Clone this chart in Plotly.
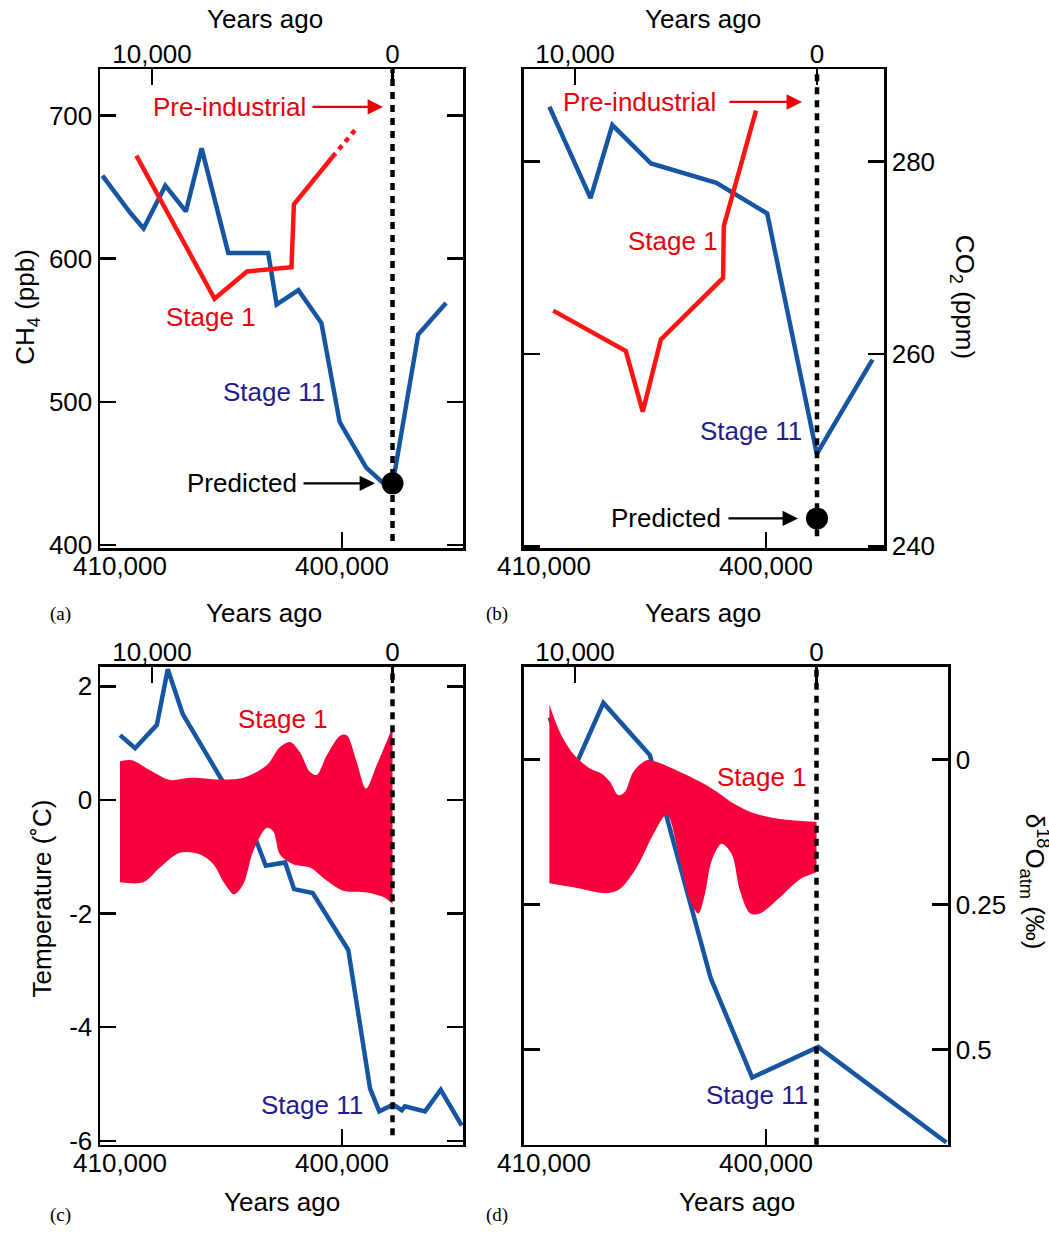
import plotly.graph_objects as go

W, H = 1049, 1240
FONT = "Liberation Sans, Arial, Helvetica, sans-serif"
SERIF = "Liberation Serif, Times New Roman, serif"
RED = "#ff1414"
RED_TXT = "#e8000b"
BAND = "#fa003c"
BLUE = "#1655a2"
NAVY = "#1f1c8f"

# ---------------- Data ----------------
# Panel (a) CH4 (ppb)
ch4_s11_years = [409900, 408750, 408200, 407300, 406450, 405800, 404700, 403050, 402700,
                 401800, 400850, 400100, 399000, 398350, 397900, 396850, 395700]
ch4_s11 = [658, 632, 621, 651, 633, 677, 604, 604, 568, 578, 555, 486, 454, 444, 443, 547, 569]
ch4_s1_years = [10650, 7400, 6050, 4200, 4100, 2500]
ch4_s1 = [672, 572, 591, 594, 638, 671]
ch4_s1_ext_years = [2500, 1550]
ch4_s1_ext = [671, 690]
ch4_preindustrial = 706
ch4_predicted = 443

# Panel (b) CO2 (ppm)
co2_s11_years = [408950, 407250, 406350, 404750, 402050, 399950, 397900, 395600]
co2_s11 = [285.7, 276.2, 283.8, 279.8, 277.8, 274.6, 249.6, 259.4]
co2_s1_years = [10900, 7900, 7200, 6450, 3880, 3850, 2520]
co2_s1 = [264.5, 260.3, 254.0, 261.5, 267.9, 273.3, 285.3]
co2_preindustrial = 286.2
co2_predicted = 242.9

# Panel (c) Temperature (C)
temp_s11_years = [409170, 408550, 407650, 407200, 406580, 403670, 403150, 402350, 401980,
                  401210, 399740, 398840, 398460, 397880, 397530, 397400, 396570, 395920, 395050]
temp_s11 = [1.14, 0.91, 1.32, 2.30, 1.51, -0.58, -1.16, -1.10, -1.57, -1.64, -2.64, -5.08,
            -5.48, -5.36, -5.46, -5.39, -5.48, -5.10, -5.73]
temp_s1_up_years = [11330, 10840, 10080, 9250, 8420, 7170, 6200, 5230, 4680, 4260, 3850, 3430,
                    3150, 2740, 2180, 1900, 1490, 1100, 660, 0]
temp_s1_up = [0.68, 0.70, 0.52, 0.35, 0.39, 0.36, 0.39, 0.61, 0.93, 1.02, 0.84, 0.49, 0.44,
              0.78, 1.13, 1.14, 0.67, 0.20, 0.61, 1.28]
temp_s1_lo_years = [11330, 10360, 9670, 8840, 8000, 7450, 6970, 6590, 6200, 5790, 5230, 4960,
                    4680, 4130, 3430, 2740, 2050, 1070, 380, 0]
temp_s1_lo = [-1.45, -1.45, -1.19, -0.93, -0.96, -1.13, -1.48, -1.66, -1.48, -0.90, -0.49,
              -0.55, -0.96, -1.13, -1.19, -1.42, -1.60, -1.63, -1.71, -1.83]

# Panel (d) d18O atm (permil)
d18o_s11_years = [408940, 408070, 406720, 404800, 402290, 400570, 397840, 392550]
d18o_s11 = [-0.073, 0.029, -0.098, -0.008, 0.376, 0.548, 0.495, 0.660]
d18o_s1_up_years = [11060, 10620, 10070, 9380, 8890, 8550, 8210, 7930, 7590, 7030, 6620, 5650,
                    4820, 4130, 3450, 2620, 1510, 0]
d18o_s1_up = [-0.095, -0.047, -0.010, 0.015, 0.024, 0.038, 0.061, 0.055, 0.021, 0.001, 0.004,
              0.021, 0.038, 0.055, 0.075, 0.092, 0.102, 0.107]
d18o_s1_lo_years = [11060, 10070, 8690, 8140, 7450, 6760, 6200, 5650, 5240, 4890, 4620, 4340,
                    3930, 3510, 3170, 2750, 2340, 1510, 680, 0]
d18o_s1_lo = [0.213, 0.220, 0.230, 0.223, 0.186, 0.129, 0.095, 0.174, 0.243, 0.265, 0.231,
              0.174, 0.145, 0.163, 0.226, 0.265, 0.265, 0.237, 0.206, 0.194]

# Axis ticks
s11_tickvals = [410000, 400000]
s11_ticktext = ["410,000", "400,000"]
s1_tickvals = [10000, 0]
s1_ticktext = ["10,000", "0"]
ch4_ticks = [400, 500, 600, 700]
co2_ticks = [240, 260, 280]
temp_ticks = [-6, -4, -2, 0, 2]
temp_ticktext = ["-6", "-4", "-2", "0", "2"]
d18o_ticks = [0, 0.25, 0.5]
d18o_ticktext = ["0", "0.25", "0.5"]

# ---------------- Layout helpers ----------------
def px_x(x):
    return x / W


def px_y(y):
    return 1 - y / H


F26 = dict(family=FONT, size=26, color="black")
LW = 2.5


def base_axis(**kw):
    d = dict(showline=True, linewidth=LW, linecolor="black", ticks="inside", ticklen=16,
             tickwidth=LW, tickcolor="black", tickfont=F26, showgrid=False, zeroline=False,
             fixedrange=True)
    d.update(kw)
    return d


panels = {
    # name: (xdom px, ydom px, bottom range, top range, y range, yside)
    "a": ((100, 463), (70, 554), [410000, 395000], [12162, -2931], [397.7, 732.3], "left"),
    "b": ((523.5, 884), (70, 554), [410020, 395124], [12128, -2769], [239.8, 289.6], "right"),
    "c": ((100, 463), (674, 1157), [410000, 395000], [12162, -2931], [-6.07, 2.34], "left"),
    "d": ((523.5, 948), (674, 1157), [410020, 392480], [12133, -5445], [0.664, -0.160], "right"),
}
ytick_info = {
    "a": (ch4_ticks, [str(v) for v in ch4_ticks]),
    "b": (co2_ticks, [str(v) for v in co2_ticks]),
    "c": (temp_ticks, temp_ticktext),
    "d": (d18o_ticks, d18o_ticktext),
}

layout = dict(width=W, height=H, margin=dict(l=0, r=0, t=0, b=0), autosize=False,
              paper_bgcolor="white", plot_bgcolor="white", showlegend=False,
              font=dict(family=FONT, size=26, color="black"))

axes_ids = {}
for i, key in enumerate(["a", "b", "c", "d"]):
    (x0, x1), (y0, y1), rb, rt, ry, side = panels[key]
    xb = 2 * i + 1
    xt = 2 * i + 2
    yi = i + 1
    xb_name = "xaxis" if xb == 1 else f"xaxis{xb}"
    xt_name = f"xaxis{xt}"
    y_name = "yaxis" if yi == 1 else f"yaxis{yi}"
    xb_ref = "x" if xb == 1 else f"x{xb}"
    xt_ref = f"x{xt}"
    y_ref = "y" if yi == 1 else f"y{yi}"
    xdom = [px_x(x0), px_x(x1)]
    ydom = [px_y(y1), px_y(y0)]
    layout[xb_name] = base_axis(domain=xdom, range=rb, anchor=y_ref, side="bottom",
                                tickvals=[s11_tickvals[1]], ticktext=[s11_ticktext[1]],
                                ticklabelstandoff=-7)
    layout[xt_name] = base_axis(domain=xdom, range=rt, anchor=y_ref, side="top",
                                overlaying=xb_ref, tickvals=s1_tickvals, ticktext=s1_ticktext,
                                ticklabelstandoff=-7)
    tv, tt = ytick_info[key]
    layout[y_name] = base_axis(domain=ydom, range=ry, anchor=xb_ref, side=side,
                               mirror="ticks", tickvals=tv, ticktext=tt)
    axes_ids[key] = (xb_ref, xt_ref, y_ref)

fig = go.Figure()
fig.update_layout(**layout)


def line(x, y, xa, ya, color, width=4.5, dash="solid", shape="linear"):
    fig.add_trace(go.Scatter(x=x, y=y, xaxis=xa, yaxis=ya, mode="lines",
                             line=dict(color=color, width=width, dash=dash, shape=shape),
                             hoverinfo="skip"))


def band(xu, yu, xl, yl, xa, ya):
    fig.add_trace(go.Scatter(x=xl, y=yl, xaxis=xa, yaxis=ya, mode="lines",
                             line=dict(width=0, shape="spline", smoothing=0.9, color=BAND),
                             hoverinfo="skip"))
    fig.add_trace(go.Scatter(x=xu, y=yu, xaxis=xa, yaxis=ya, mode="lines", fill="tonexty",
                             fillcolor=BAND,
                             line=dict(width=0, shape="spline", smoothing=0.9, color=BAND),
                             hoverinfo="skip"))


def dot(x, y, xa, ya):
    fig.add_trace(go.Scatter(x=[x], y=[y], xaxis=xa, yaxis=ya, mode="markers",
                             marker=dict(color="black", size=22), hoverinfo="skip"))


# Panel (a)
xb, xt, ya = axes_ids["a"]
line(ch4_s1_years, ch4_s1, xt, ya, RED)
line(ch4_s1_ext_years, ch4_s1_ext, xt, ya, RED, dash="5px,5px")
line(ch4_s11_years, ch4_s11, xb, ya, BLUE)
dot(0, ch4_predicted, xt, ya)

# Panel (b)
xb, xt, ya = axes_ids["b"]
line(co2_s1_years, co2_s1, xt, ya, RED)
line(co2_s11_years, co2_s11, xb, ya, BLUE)
dot(0, co2_predicted, xt, ya)

# Panel (c)
xb, xt, ya = axes_ids["c"]
band(temp_s1_up_years, temp_s1_up, temp_s1_lo_years, temp_s1_lo, xt, ya)
line(temp_s11_years, temp_s11, xb, ya, BLUE)

# Panel (d)
xb, xt, ya = axes_ids["d"]
band(d18o_s1_up_years, d18o_s1_up, d18o_s1_lo_years, d18o_s1_lo, xt, ya)
line(d18o_s11_years, d18o_s11, xb, ya, BLUE)

# Present-day dotted lines (0 years ago on Stage 1 axis)
shapes = []
for key, ybot in [("a", 0.015), ("b", 0.025), ("c", 0.02), ("d", 0.0)]:
    xb, xt, ya = axes_ids[key]
    shapes.append(dict(type="line", xref=xt, yref=f"{ya} domain", x0=0, x1=0, y0=ybot, y1=1,
                       line=dict(color="black", width=4.5, dash="7px,6px"), layer="above"))
fig.update_layout(shapes=shapes)

ann = []


def text(x, y, s, xa, ya, color="black", size=26, **kw):
    d = dict(x=x, y=y, xref=xa, yref=ya, text=s, showarrow=False,
             font=dict(family=FONT, size=size, color=color), xanchor="center", yanchor="middle")
    d.update(kw)
    ann.append(d)


def arrow(x, y, xa, ya, ax, color):
    ann.append(dict(x=x, y=y, xref=xa, yref=ya, text="", showarrow=True, ax=ax, ay=0,
                    arrowhead=2, arrowsize=1.4, arrowwidth=2.2, arrowcolor=color, standoff=0))


# Panel (a) labels
xb, xt, ya = axes_ids["a"]
text(6798, ch4_preindustrial, "Pre-industrial", xt, ya, RED_TXT)
arrow(395, ch4_preindustrial, xt, ya, -72, RED_TXT)
text(6258, ch4_predicted, "Predicted", xt, ya)
arrow(728, ch4_predicted, xt, ya, -73, "black")
text(7547, 559.5, "Stage 1", xt, ya, RED_TXT)
text(4927, 507, "Stage 11", xt, ya, NAVY)

# Panel (b) labels
xb, xt, ya = axes_ids["b"]
text(7355, co2_preindustrial, "Pre-industrial", xt, ya, RED_TXT)
arrow(620, co2_preindustrial, xt, ya, -74, RED_TXT)
text(6219, co2_predicted, "Predicted", xt, ya)
arrow(785, co2_predicted, xt, ya, -71, "black")
text(5950, 271.7, "Stage 1", xt, ya, RED_TXT)
text(2727, 252.0, "Stage 11", xt, ya, NAVY)

# Panel (c) labels
xb, xt, ya = axes_ids["c"]
text(4566, 1.43, "Stage 1", xt, ya, RED_TXT)
text(3360, -5.37, "Stage 11", xt, ya, NAVY)

# Panel (d) labels
xb, xt, ya = axes_ids["d"]
text(2257, 0.0295, "Stage 1", xt, ya, RED_TXT)
text(2472, 0.578, "Stage 11", xt, ya, NAVY)

# 410,000 labels (offset from the edge tick)
for key in ["a", "b", "c", "d"]:
    xb, xt, ya = axes_ids[key]
    text(s11_tickvals[0], 0, s11_ticktext[0], xb, f"{ya} domain", xshift=20, yshift=-18)

# Axis titles
def ptext(xpx, ypx, s, angle=0, size=26, family=FONT):
    ann.append(dict(x=px_x(xpx), y=px_y(ypx), xref="paper", yref="paper", text=s,
                    showarrow=False, textangle=angle, xanchor="center", yanchor="middle",
                    font=dict(family=family, size=size, color="black")))


ptext(265, 19, "Years ago")
ptext(703, 19, "Years ago")
ptext(264, 619, "Years ago")
ptext(703, 619, "Years ago")
ptext(282, 1215, "Years ago")
ptext(737, 1215, "Years ago")
ptext(27, 310, "CH<sub>4</sub> (ppb)", angle=-90)
ptext(963, 300, "CO<sub>2</sub> (ppm)", angle=90)
ptext(42, 908, "Temperature (˚C)", angle=-90)
ptext(1035, 891, "δ<sup>18</sup>O<sub>atm</sub> (‰)", angle=90)
ptext(60, 620, "(a)", size=19, family=SERIF)
ptext(497, 620, "(b)", size=19, family=SERIF)
ptext(60, 1228, "(c)", size=19, family=SERIF)
ptext(497, 1228, "(d)", size=19, family=SERIF)

fig.update_layout(annotations=ann)
fig.write_html(
    "out.html",
    config={"displayModeBar": False, "staticPlot": True},
    post_script=(
        "document.documentElement.style.margin='0px';"
        "document.body.style.margin='0px';"
        "document.body.style.padding='0px';"
        "document.documentElement.style.overflow='hidden';"
        "document.body.style.overflow='hidden';"
    ),
)
